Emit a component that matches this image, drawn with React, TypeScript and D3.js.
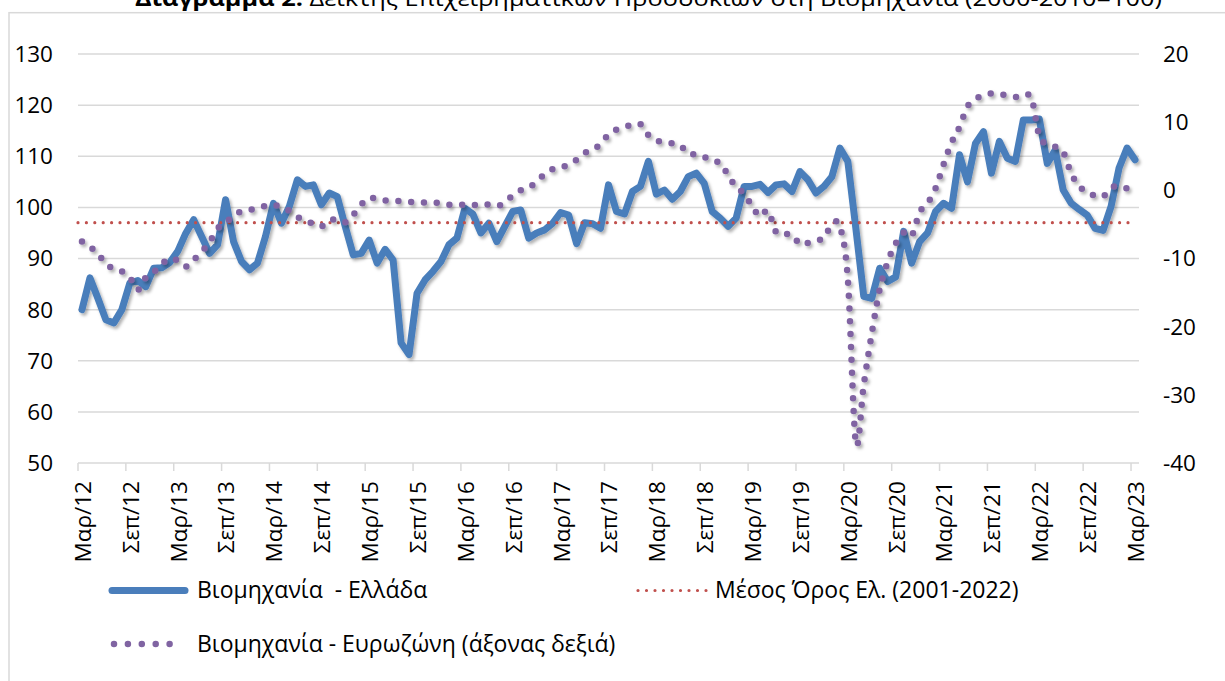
import React from 'react';
import * as d3 from 'd3';

// Monthly categories: Mar 2012 .. Mar 2023
const months = d3.timeMonth.range(new Date(2012, 2, 1), new Date(2023, 3, 1));

const tickLabels = [
  'Μαρ/12', 'Σεπ/12', 'Μαρ/13', 'Σεπ/13', 'Μαρ/14', 'Σεπ/14', 'Μαρ/15', 'Σεπ/15',
  'Μαρ/16', 'Σεπ/16', 'Μαρ/17', 'Σεπ/17', 'Μαρ/18', 'Σεπ/18', 'Μαρ/19', 'Σεπ/19',
  'Μαρ/20', 'Σεπ/20', 'Μαρ/21', 'Σεπ/21', 'Μαρ/22', 'Σεπ/22', 'Μαρ/23',
];

// Βιομηχανία - Ελλάδα (left axis)
const greece = [
  80.0, 86.2, 82.2, 78.0, 77.4, 80.0, 85.2, 85.7, 84.5, 88.1, 88.2, 89.2,
  91.4, 94.9, 97.6, 94.3, 91.0, 92.7, 101.5, 93.3, 89.4, 87.8, 89.1, 94.3,
  100.8, 96.9, 100.2, 105.4, 104.1, 104.4, 100.5, 102.8, 102.1, 96.3, 90.7, 91.0,
  93.6, 89.1, 91.8, 89.7, 73.5, 71.2, 83.2, 85.8, 87.5, 89.4, 92.7, 94.0,
  99.8, 98.7, 95.0, 96.9, 93.3, 96.3, 99.2, 99.5, 94.0, 95.0, 95.6, 96.9,
  99.0, 98.5, 92.9, 97.0, 96.8, 95.9, 104.4, 99.2, 98.7, 103.1, 104.1, 109.0,
  102.6, 103.4, 101.6, 103.1, 106.0, 106.7, 104.7, 99.2, 97.9, 96.3, 97.9, 104.1,
  104.1, 104.5, 102.9, 104.4, 104.6, 103.1, 107.0, 105.4, 102.8, 104.1, 106.0, 111.6,
  109.0, 96.0, 82.6, 82.2, 88.1, 85.5, 86.4, 95.3, 89.1, 93.3, 95.0, 99.2,
  100.8, 99.8, 110.3, 105.0, 112.5, 114.8, 106.7, 112.9, 109.6, 109.0, 117.1, 117.1,
  117.3, 108.6, 111.2, 103.4, 100.8, 99.6, 98.5, 95.9, 95.5, 100.2, 107.7, 111.6,
  109.3,
];

// Βιομηχανία - Ευρωζώνη (right axis)
const eurozone = [
  -7.5, -8.3, -9.3, -10.8, -11.5, -11.9, -12.8, -14.6, -12.8, -12.0, -10.8, -10.0,
  -10.3, -11.2, -10.2, -9.0, -7.6, -5.6, -4.8, -3.7, -3.1, -2.9, -2.6, -2.3,
  -2.1, -2.5, -3.0, -3.9, -4.4, -4.9, -5.3, -4.4, -4.3, -4.7, -3.6, -2.1,
  -1.1, -1.3, -1.5, -1.5, -1.6, -1.7, -1.8, -1.8, -1.8, -1.9, -2.1, -2.2,
  -2.1, -2.2, -2.0, -2.1, -2.3, -1.8, -0.7, 0.0, 0.4, 1.3, 2.4, 3.1,
  3.3, 3.8, 4.5, 5.5, 5.9, 6.8, 8.2, 8.9, 9.3, 9.6, 9.7, 8.1,
  7.3, 7.1, 6.9, 6.6, 5.4, 5.3, 4.9, 4.3, 4.0, 2.2, 0.5, -0.5,
  -2.3, -3.8, -3.0, -6.1, -6.4, -6.5, -7.9, -7.7, -7.3, -7.0, -5.0, -5.3,
  -13.0, -37.0, -28.5, -21.0, -14.5, -10.5, -7.8, -6.2, -6.7, -3.2, -1.9, 0.3,
  3.8, 7.0, 9.3, 12.3, 13.4, 13.9, 14.2, 14.1, 13.9, 13.7, 13.7, 13.6,
  8.0, 6.8, 6.4, 5.6, 2.5, 0.6, -0.2, -0.8, -0.9, 0.4, 0.6, 0.3,
  0.1,
];

// Μέσος Όρος Ελ. (2001-2022)
const greekAverage = 97;

const leftTicks = [50, 60, 70, 80, 90, 100, 110, 120, 130];
const rightTicks = [-40, -30, -20, -10, 0, 10, 20];

const FONT = '"Open Sans", "Noto Sans", sans-serif';
const BLUE = '#4a7ebb';
const PURPLE = '#8064a2';
const RED = '#c0504d';
const GRID = '#d9d9d9';

const App: React.FC = () => {
  const width = 1225;
  const height = 681;

  const x = d3.scaleBand<number>()
    .domain(months.map((_, i) => i))
    .range([78, 1139]);
  const cx = (i: number) => x(i)! + x.bandwidth() / 2;

  const yL = d3.scaleLinear().domain([50, 130]).range([463, 54]);
  const yR = d3.scaleLinear().domain([-40, 20]).range([463, 54]);

  const greeceLine = d3.line<number>()
    .x((_, i) => cx(i))
    .y(d => yL(d));

  // smoothed line, as in the original
  const euroLine = d3.line<number>()
    .x((_, i) => cx(i))
    .y(d => yR(d))
    .curve(d3.curveCardinal.tension(0));

  const tickIdx = tickLabels.map((_, k) => k * 6);
  const [x0, x1] = x.range();

  return (
    <svg width={width} height={height} style={{ position: 'fixed', left: 0, top: 0, background: '#fff' }}
      fontFamily={FONT}>
      <defs>
        <filter id="shadow" x="-5%" y="-5%" width="110%" height="120%">
          <feDropShadow dx="2" dy="2.5" stdDeviation="1.6" floodColor="#000" floodOpacity="0.3" />
        </filter>
      </defs>

      {/* title, cut off at the top */}
      <text x={135} y={6} fontSize={21} fill="#000" textLength={1027} lengthAdjust="spacingAndGlyphs">
        <tspan fontWeight="bold">Διάγραμμα 2:</tspan>
        <tspan> Δείκτης Επιχειρηματικών Προσδοκιών στη Βιομηχανία (2000-2010=100)</tspan>
      </text>

      {/* chart frame */}
      <rect x={9} y={12.7} width={1240} height={700} fill="#fff" stroke={GRID} strokeWidth={1.5} />

      {/* gridlines */}
      {leftTicks.slice(1).map(t => (
        <line key={t} x1={x0} x2={x1} y1={yL(t)} y2={yL(t)} stroke={GRID} strokeWidth={1.5} />
      ))}

      {/* x axis */}
      <line x1={x0} x2={x1} y1={yL(50)} y2={yL(50)} stroke={GRID} strokeWidth={1.5} />
      {tickIdx.map(i => (
        <line key={i} x1={x(i)!} x2={x(i)!} y1={yL(50)} y2={yL(50) + 8} stroke={GRID} strokeWidth={1.5} />
      ))}
      {tickIdx.map((i, k) => (
        <text key={i} transform={`translate(${x(i)! + 5},481) rotate(-90)`} textAnchor="end"
          dy="0.35em" fontSize={22.5} fill="#000">{tickLabels[k]}</text>
      ))}

      {/* left axis labels */}
      {leftTicks.map(t => (
        <text key={t} x={53} y={yL(t)} dy="0.35em" textAnchor="end" fontSize={22.5} fill="#000">{t}</text>
      ))}

      {/* right axis labels */}
      {rightTicks.map(t => (
        <text key={t} x={1163} y={yR(t)} dy="0.35em" textAnchor="start" fontSize={22.5} fill="#000">{t}</text>
      ))}

      {/* series */}
      <path d={greeceLine(greece)!} fill="none" stroke={BLUE} strokeWidth={7} strokeLinejoin="round"
        strokeLinecap="round" filter="url(#shadow)" />
      <line x1={x0} x2={x1 - 4} y1={yL(greekAverage)} y2={yL(greekAverage)} stroke={RED} strokeWidth={3.2}
        strokeDasharray="0 8.4" strokeLinecap="round" />
      <path d={euroLine(eurozone)!} fill="none" stroke={PURPLE} strokeWidth={6.5} strokeDasharray="0 12.8"
        strokeLinecap="round" filter="url(#shadow)" />

      {/* legend */}
      <line x1={112} x2={185} y1={590.5} y2={590.5} stroke={BLUE} strokeWidth={7} strokeLinecap="round" />
      <text x={197} y={590} dy="0.35em" fontSize={23} fill="#000" style={{ whiteSpace: 'pre' }}>Βιομηχανία  - Ελλάδα</text>

      <line x1={638} x2={707} y1={590.5} y2={590.5} stroke={RED} strokeWidth={3.2}
        strokeDasharray="0 8.5" strokeLinecap="round" />
      <text x={715} y={590} dy="0.35em" fontSize={23} fill="#000">Μέσος Όρος Ελ. (2001-2022)</text>

      <line x1={114} x2={171} y1={644} y2={644} stroke={PURPLE} strokeWidth={6.5}
        strokeDasharray="0 13.9" strokeLinecap="round" />
      <text x={197} y={644} dy="0.35em" fontSize={23} fill="#000">Βιομηχανία - Ευρωζώνη (άξονας δεξιά)</text>
    </svg>
  );
};

export default App;
